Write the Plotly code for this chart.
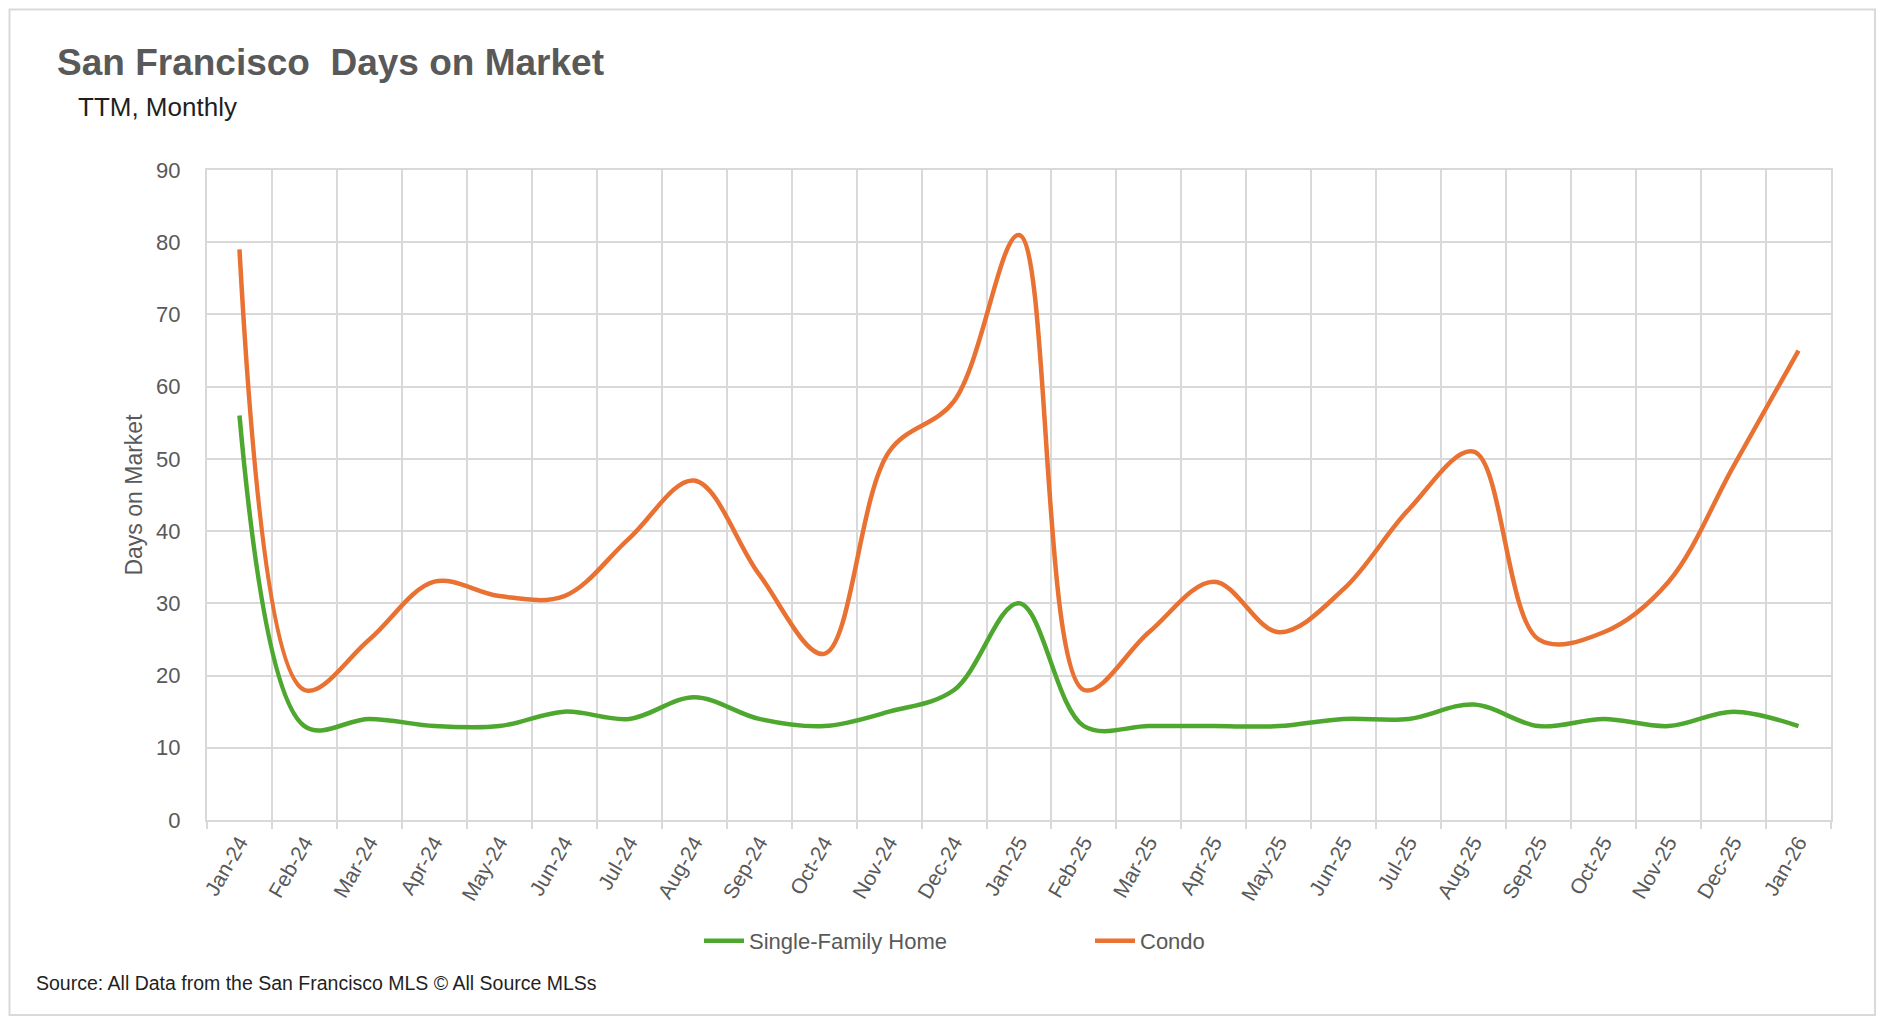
import plotly.graph_objects as go

months = ["Jan-24", "Feb-24", "Mar-24", "Apr-24", "May-24", "Jun-24", "Jul-24", "Aug-24",
          "Sep-24", "Oct-24", "Nov-24", "Dec-24", "Jan-25", "Feb-25", "Mar-25", "Apr-25",
          "May-25", "Jun-25", "Jul-25", "Aug-25", "Sep-25", "Oct-25", "Nov-25", "Dec-25", "Jan-26"]
single_family = [56, 13, 14, 13, 13, 15, 14, 17, 14, 13, 15, 18, 30, 13, 13, 13,
                 13, 14, 14, 16, 13, 14, 13, 15, 13]
condo = [79, 18, 25, 33, 31, 31, 39, 47, 34, 23, 51, 58, 81, 18, 26, 33,
         26, 32, 43, 51, 25, 26, 33, 49, 65]
y_ticks = [0, 10, 20, 30, 40, 50, 60, 70, 80, 90]

GRID = "#D9D9D9"
TXT = "#595959"
FONT = "Liberation Sans, Arial, sans-serif"

W, H = 1886, 1022
OFF = 8  # page body margin
L, R, T, B = 207 - OFF, 55 + OFF, 170 - OFF, 202 + OFF
PW, PH = W - L - R, H - T - B


def px(xr):
    return (xr - OFF - L) / PW


def py(yr):
    return (H - B - (yr - OFF)) / PH


fig = go.Figure()
fig.add_trace(go.Scatter(x=months, y=single_family, name="Single-Family Home", mode="lines",
                         line=dict(color="#4EA72E", width=4.5, shape="spline", smoothing=1)))
fig.add_trace(go.Scatter(x=months, y=condo, name="Condo", mode="lines",
                         line=dict(color="#E97132", width=4.5, shape="spline", smoothing=1)))

fig.update_layout(
    width=W, height=H,
    margin=dict(l=L, r=R, t=T, b=B, autoexpand=False),
    paper_bgcolor="white", plot_bgcolor="white",
    font=dict(family=FONT, color=TXT),
    showlegend=True,
    legend=dict(orientation="h", x=px(699), y=py(941), xanchor="left", yanchor="middle",
                font=dict(family=FONT, size=22, color=TXT),
                entrywidth=336, entrywidthmode="pixels", itemwidth=40,
                bgcolor="rgba(0,0,0,0)"),
    xaxis=dict(type="category", range=[-0.5, len(months) - 0.5], tickson="boundaries",
               showgrid=True, gridcolor=GRID, gridwidth=2,
               showline=True, linecolor=GRID, linewidth=2, mirror=True,
               ticks="outside", ticklen=7, tickcolor=GRID, tickwidth=2,
               tickangle=-60, tickfont=dict(family=FONT, size=21, color=TXT),
               zeroline=False, fixedrange=True),
    yaxis=dict(range=[0, 90], tickvals=y_ticks, showgrid=True, gridcolor=GRID, gridwidth=2,
               showline=True, linecolor=GRID, linewidth=2, mirror=True,
               ticks="", ticklabelstandoff=20,
               tickfont=dict(family=FONT, size=22, color=TXT),
               title=dict(text="Days on Market", font=dict(family=FONT, size=23, color=TXT), standoff=7),
               zeroline=False, fixedrange=True),
)

fig.add_annotation(text="<b>San Francisco  Days on Market</b>", xref="paper", yref="paper",
                   x=px(55), y=py(62), xanchor="left", yanchor="middle", showarrow=False,
                   font=dict(family=FONT, size=37, color=TXT))
fig.add_annotation(text="TTM, Monthly", xref="paper", yref="paper",
                   x=px(76), y=py(107), xanchor="left", yanchor="middle", showarrow=False,
                   font=dict(family=FONT, size=26, color="#1F1F1F"))
fig.add_annotation(text="Source: All Data from the San Francisco MLS \u00a9 All Source MLSs",
                   xref="paper", yref="paper", x=px(34), y=py(983), xanchor="left", yanchor="middle",
                   showarrow=False, font=dict(family=FONT, size=19.5, color="#1F1F1F"))

fig.add_shape(type="rect", xref="paper", yref="paper", x0=px(9.5), x1=px(1875), y0=py(1015), y1=py(9.5),
              line=dict(color=GRID, width=2), fillcolor="rgba(0,0,0,0)", layer="below")

fig.write_html("out.html")
